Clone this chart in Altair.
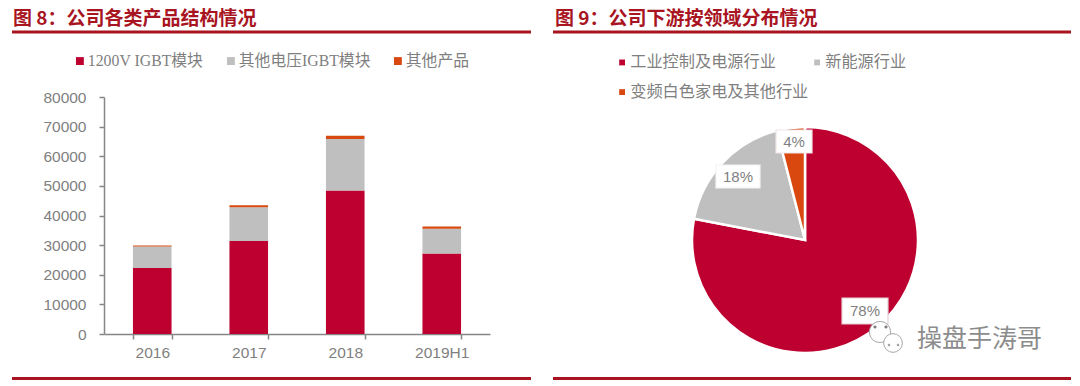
import altair as alt
import pandas as pd

# ---- data ----
years = ["2016", "2017", "2018", "2019H1"]
series_names = ["1200V IGBT模块", "其他电压IGBT模块", "其他产品"]
s1200 = [22300, 31400, 48400, 27200]
sother = [7200, 11400, 17400, 8300]
sprod = [400, 700, 1100, 800]
bar_colors = ["#BE0030", "#BFBFBF", "#D8480F"]

pie_names = ["工业控制及电源行业", "新能源行业", "变频白色家电及其他行业"]
pie_vals = [78, 18, 4]
pie_colors = ["#BE0030", "#BFBFBF", "#D8480F"]

DARK = "#A8141F"
GREY = "#7F7F7F"
SANS = "Liberation Sans"
CJK = "Noto Sans CJK SC"

rows = []
for i, y in enumerate(years):
    for j, (n, v) in enumerate(zip(series_names, [s1200[i], sother[i], sprod[i]])):
        rows.append({"year": y, "series": n, "value": v, "ord": j})
bars_df = pd.DataFrame(rows)
pie_df = pd.DataFrame({"name": pie_names, "value": pie_vals, "ord": [0, 1, 2]})

# page px -> chart px: subtract 8
px = lambda v: v - 8

bars = alt.Chart(bars_df).mark_bar().encode(
    x=alt.X("year:N", sort=years,
            scale=alt.Scale(range=[px(104), px(490)], paddingInner=0.6, paddingOuter=0.3),
            axis=alt.Axis(title=None, labelAngle=0, tickBand="extent", offset=-50,
                          labelFont=SANS, labelFontSize=15.5, labelColor=GREY, labelPadding=6,
                          domainColor="#868686", tickColor="#868686", tickSize=5, domainWidth=1.5,
                          tickWidth=1.5, grid=False)),
    y=alt.Y("value:Q", stack="zero",
            scale=alt.Scale(domain=[0, 80000], range=[px(334), px(97)], nice=False),
            axis=alt.Axis(title=None, values=list(range(0, 80001, 10000)), offset=-96, format="d",
                          labelFont=SANS, labelFontSize=15.5, labelColor=GREY, labelPadding=13,
                          domainColor="#868686", tickColor="#868686", tickSize=5, domainWidth=1.5,
                          tickWidth=1.5, grid=False)),
    order=alt.Order("ord:Q"),
    color=alt.Color("series:N",
                    scale=alt.Scale(domain=series_names, range=bar_colors),
                    legend=alt.Legend(title=None, orient="none", direction="horizontal",
                                      legendX=px(72), legendY=px(53), symbolType="square",
                                      symbolSize=62, symbolStrokeWidth=0,
                                      labelFont="Liberation Serif, Noto Sans CJK SC",
                                      labelFontSize=15.8, labelColor=GREY, columnPadding=19,
                                      labelOffset=0, labelLimit=300)),
)

pie = alt.Chart(pie_df).mark_arc(radius=113, stroke="white", strokeWidth=2.5).encode(
    x=alt.value(px(805)), y=alt.value(px(240)),
    theta=alt.Theta("value:Q", stack=True, scale=alt.Scale(domain=[0, 100], range=[0, 6.28318])),
    order=alt.Order("ord:Q"),
    color=alt.Color("name:N",
                    scale=alt.Scale(domain=pie_names, range=pie_colors),
                    legend=alt.Legend(title=None, orient="none", columns=2, direction="horizontal",
                                      legendX=px(614), legendY=px(54), symbolType="square",
                                      symbolSize=34, symbolStrokeWidth=0, labelFont=CJK,
                                      labelFontSize=16.2, labelColor=GREY, columnPadding=0,
                                      rowPadding=13, labelOffset=0, labelLimit=300,
                                      gridAlign="each")),
)


def label(txt, x0, x1, y0, y1, stroke):
    box = alt.Chart(pd.DataFrame({"t": [txt]})).mark_rect(
        fill="white", stroke=stroke, strokeWidth=1.2
    ).encode(x=alt.value(px(x0)), x2=alt.value(px(x1)), y=alt.value(px(y0)), y2=alt.value(px(y1)))
    text = alt.Chart(pd.DataFrame({"t": [txt]})).mark_text(
        font=SANS, fontSize=15, color=GREY
    ).encode(text="t:N", x=alt.value(px((x0 + x1) / 2)), y=alt.value(px((y0 + y1) / 2)))
    return box + text


def head(txt, x):
    return alt.Chart(pd.DataFrame({"t": [txt]})).mark_text(
        font=CJK, fontSize=19, fontWeight="bold", color="#A8141F", align="left"
    ).encode(text="t:N", x=alt.value(px(x)), y=alt.value(px(19)))


def rule(x0, x1, y, w):
    return alt.Chart(pd.DataFrame({"a": [0]})).mark_rule(color=DARK, strokeWidth=w).encode(
        x=alt.value(px(x0)), x2=alt.value(px(x1)), y=alt.value(px(y)))


def bubble(x, y, size, fill="white", stroke="#A8A8A8"):
    return alt.Chart(pd.DataFrame({"a": [0]})).mark_point(
        shape="circle", fill=fill, filled=True, stroke=stroke, strokeWidth=1, opacity=1, size=size
    ).encode(x=alt.value(px(x)), y=alt.value(px(y)))


watermark = alt.Chart(pd.DataFrame({"t": ["操盘手涛哥"]})).mark_text(
    font=CJK, fontSize=25, color="#8C8C8C", align="left"
).encode(text="t:N", x=alt.value(px(917)), y=alt.value(px(339)))

chart = alt.layer(
    bars, pie,
    rule(12, 531, 32, 3), rule(553, 1071, 32, 3),
    rule(12, 531, 378.5, 3), rule(553, 1071, 378.5, 3),
    head("图 8：公司各类产品结构情况", 13), head("图 9：公司下游按领域分布情况", 555),
    label("4%", 776, 812, 130, 153, "#F0E4E6"),
    label("18%", 716, 760, 165, 188, "#F4F4F4"),
    label("78%", 842, 888, 298, 324, "#E4D0D4"),
    bubble(880, 332, 450), bubble(893, 343, 350),
    bubble(875, 327, 5, "#777777", "#777777"), bubble(886, 327, 5, "#777777", "#777777"),
    bubble(889, 345, 3, "#999999", "#999999"), bubble(898, 345, 3, "#999999", "#999999"),
    watermark,
).resolve_scale(color="independent", theta="independent").properties(
    width=1064, height=376, padding=0,
    autosize=alt.AutoSizeParams(type="none"), background="white",
).configure_view(stroke=None)

chart.save("out.html", embed_options={"renderer": "svg", "actions": False})
